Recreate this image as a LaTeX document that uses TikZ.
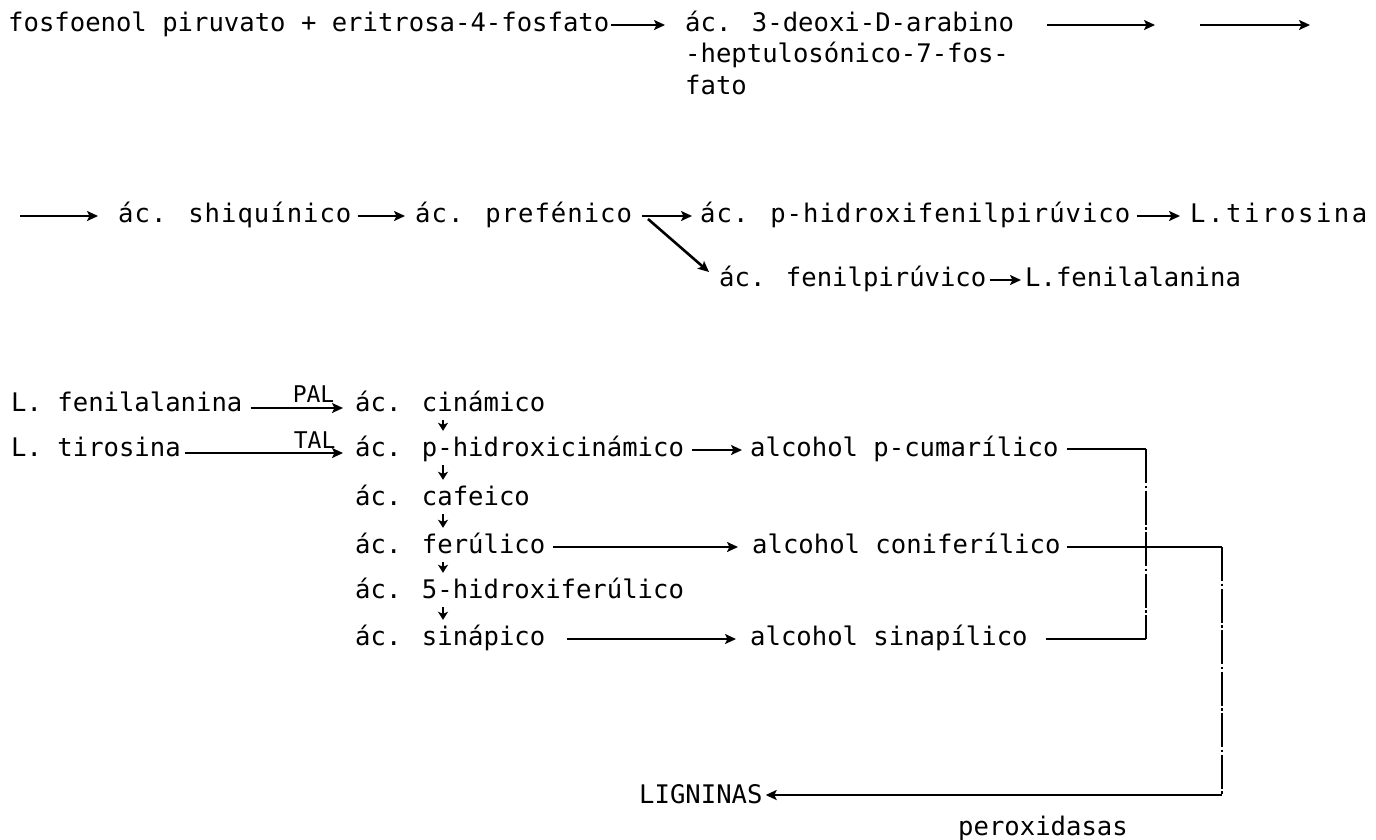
\documentclass[tikz,border=0pt]{standalone}
\usepackage{fontspec}
\setmainfont{DejaVu Sans Mono}
\newfontfamily\rowtwofont[LetterSpace=3.9]{DejaVu Sans Mono}
\newfontfamily\widefont[LetterSpace=10]{DejaVu Sans Mono}
\usetikzlibrary{arrows.meta}
\tikzset{
  txt/.style={anchor=base west, inner sep=0pt, text height=18pt, text depth=5pt, font=\fontsize{25.6}{30}\selectfont},
  txttwo/.style={txt, font=\fontsize{25.6}{30}\rowtwofont},
  txtwide/.style={txt, font=\fontsize{25.6}{30}\widefont},
  arr/.style={line width=2.6pt, -{Stealth[length=11pt,width=10pt,inset=2.5pt]}},
  darr/.style={line width=2pt, -{Stealth[length=8pt,width=10pt,inset=2pt]}},
  conn/.style={line width=1.9pt},
  vconn/.style={line width=1.7pt, dash pattern=on 34pt off 2.5pt on 2.5pt off 2.5pt},
  lbl/.style={inner sep=0pt, font=\fontsize{23}{26}\selectfont}
}
\begin{document}
\begin{tikzpicture}[x=1pt,y=-1pt]
\useasboundingbox (0,0) rectangle (1376,839);
% row 1
\node[txt] (r1a) at (8,31) {fosfoenol piruvato + eritrosa-4-fosfato};
\node[txt] (r1b) at (685,31) {ác. 3-deoxi-D-arabino};
\node[txt] (r1c) at (685,62) {-heptulosónico-7-fos-};
\node[txt] (r1d) at (685,94) {fato};
\draw[arr] ([xshift=2pt,yshift=6pt]r1a.base east) -- ([xshift=-20pt,yshift=6pt]r1b.base west);
\coordinate (a1s) at (1047,25);
\coordinate (a1e) at (1155,25);
\coordinate (a2s) at (1200,25);
\coordinate (a2e) at (1310,25);
\draw[arr] (a1s) -- (a1e);
\draw[arr] (a2s) -- (a2e);
% row 2
\coordinate (a3s) at (20,216);
\node[txttwo] (shiq) at (118,222) {ác. shiquínico};
\node[txttwo] (pref) at (415,222) {ác. prefénico};
\node[txttwo] (phf) at (700,222) {ác. p-hidroxifenilpirúvico};
\node[txtwide] (ltir) at (1190,222) {L.tirosina};
\node[txt] (fpir) at (719,286) {ác. fenilpirúvico};
\node[txt] (lfen) at (1025,286) {L.fenilalanina};
\draw[arr] (a3s) -- ([xshift=-20pt,yshift=6pt]shiq.base west);
\draw[arr] ([xshift=6pt,yshift=6pt]shiq.base east) -- ([xshift=-10pt,yshift=6pt]pref.base west);
\draw[arr] ([xshift=10pt,yshift=6pt]pref.base east) -- ([xshift=-8pt,yshift=6pt]phf.base west);
\draw[arr] ([xshift=6pt,yshift=6pt]phf.base east) -- ([xshift=-10pt,yshift=6pt]ltir.base west);
\coordinate (dgs) at (648,219);
\draw[arr] (dgs) -- ([xshift=-10pt,yshift=14pt]fpir.base west);
\draw[arr] ([xshift=3pt,yshift=6pt]fpir.base east) -- ([xshift=-4pt,yshift=6pt]lfen.base west);
% section 3
\node[txt] (lfe3) at (11,411) {L. fenilalanina};
\node[txt] (ltir3) at (11,456) {L. tirosina};
\node[txt] (cin) at (355,411) {ác. cinámico};
\node[txt] (phc) at (355,456) {ác. p-hidroxicinámico};
\node[txt] (caf) at (355,505) {ác. cafeico};
\node[txt] (fer) at (355,553) {ác. ferúlico};
\node[txt] (hfer) at (355,598) {ác. 5-hidroxiferúlico};
\node[txt] (sin) at (355,645) {ác. sinápico};
\node[txt] (apc) at (750,456) {alcohol p-cumarílico};
\node[txt] (aco) at (752,553) {alcohol coniferílico};
\node[txt] (asi) at (750,645) {alcohol sinapílico};
\draw[arr] ([xshift=8pt,yshift=3pt]lfe3.base east) -- node[lbl, anchor=base east, pos=0.92, yshift=6pt] {PAL} ([xshift=-12pt,yshift=3pt]cin.base west);
\draw[arr] ([xshift=4pt,yshift=3pt]ltir3.base east) -- node[lbl, anchor=base east, pos=0.96, yshift=5pt] {TAL} ([xshift=-12pt,yshift=3pt]phc.base west);
\foreach \u/\v in {cin/phc, phc/caf, caf/fer, fer/hfer, hfer/sin}
  \draw[darr] ([xshift=88pt,yshift=-4pt]\u.south west) -- ([xshift=88pt,yshift=7pt]\v.north west);
\draw[arr] ([xshift=8pt,yshift=6pt]phc.base east) -- ([xshift=-8pt,yshift=6pt]apc.base west);
\draw[arr] ([xshift=8pt,yshift=6pt]fer.base east) -- ([xshift=-14pt,yshift=6pt]aco.base west);
\draw[arr] ([xshift=22pt,yshift=6pt]sin.base east) -- ([xshift=-14pt,yshift=6pt]asi.base west);
\coordinate (j1) at (1146,449);
\coordinate (j2) at (1146,639);
\coordinate (j3) at (1222,547);
\coordinate (j4) at (1222,795);
\node[txt] (lig) at (639,803) {LIGNINAS};
\node[txt] (perox) at (958,835) {peroxidasas};
\draw[conn] ([xshift=8pt,yshift=7pt]apc.base east) -- (j1);
\draw[conn] ([xshift=6pt,yshift=6pt]aco.base east) -- (j3);
\draw[conn] ([xshift=18pt,yshift=6pt]asi.base east) -- (j2);
\draw[vconn] (j1) -- (j2);
\draw[vconn] (j3) -- (j4);
\draw[arr] (j4) -- ([xshift=3pt,yshift=8pt]lig.base east);
\end{tikzpicture}
\end{document}
